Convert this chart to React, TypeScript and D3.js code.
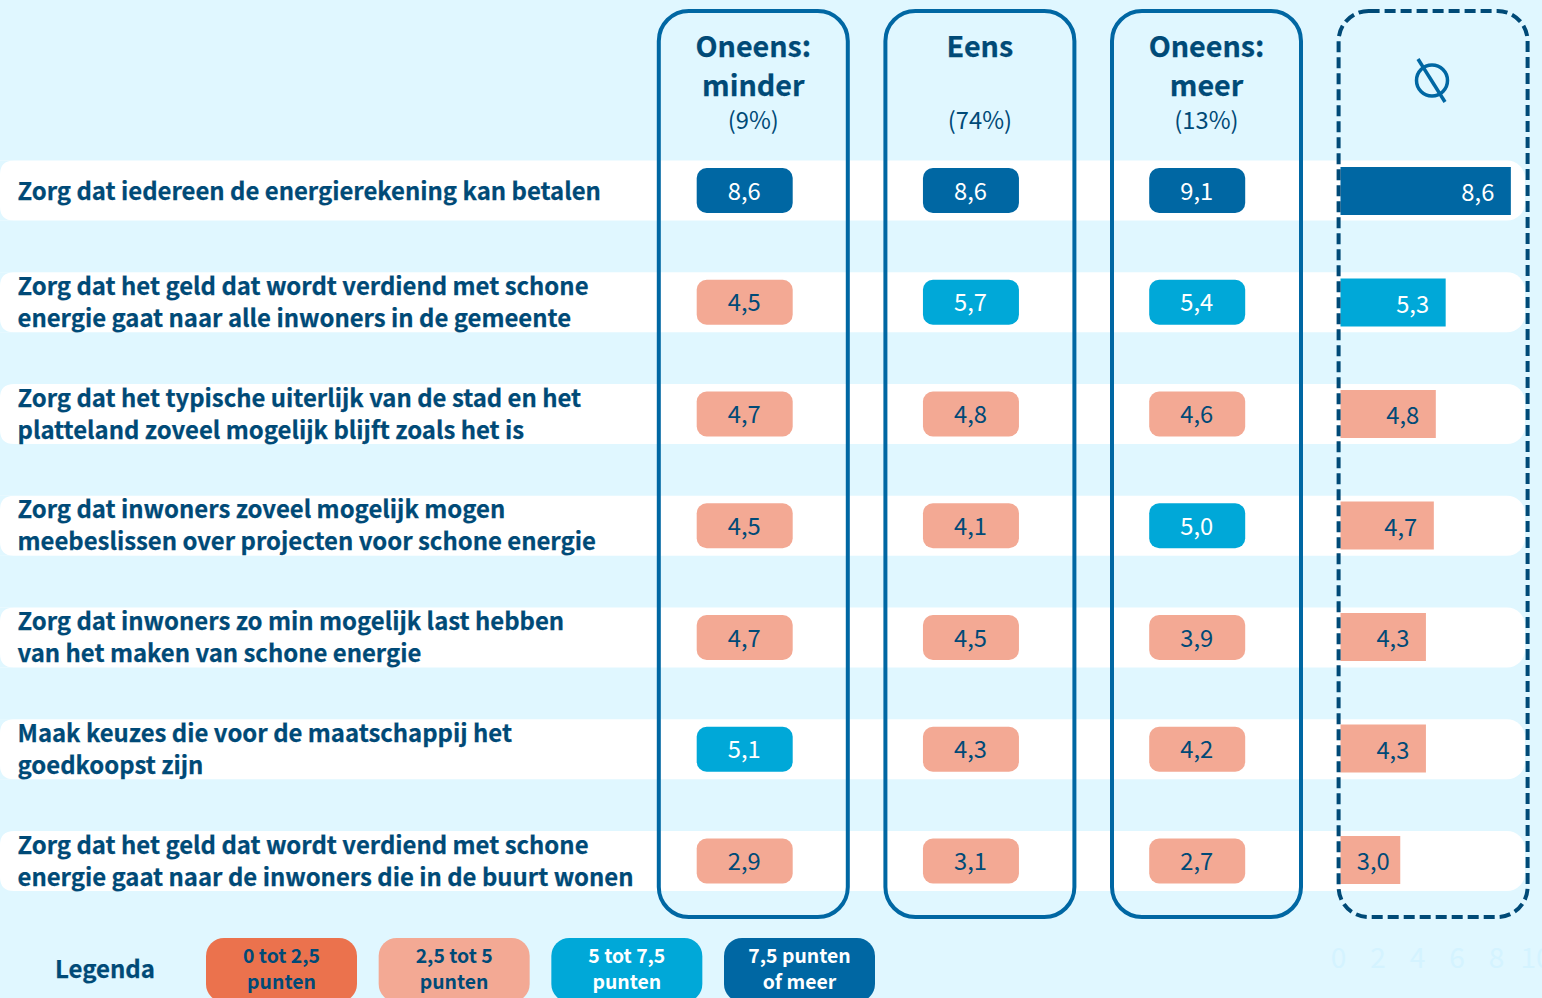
import React, { useEffect, useRef } from 'react';
import * as d3 from 'd3';

const statements: string[][] = [
    ['Zorg dat iedereen de energierekening kan betalen'],
    ['Zorg dat het geld dat wordt verdiend met schone', 'energie gaat naar alle inwoners in de gemeente'],
    ['Zorg dat het typische uiterlijk van de stad en het', 'platteland zoveel mogelijk blijft zoals het is'],
    ['Zorg dat inwoners zoveel mogelijk mogen', 'meebeslissen over projecten voor schone energie'],
    ['Zorg dat inwoners zo min mogelijk last hebben', 'van het maken van schone energie'],
    ['Maak keuzes die voor de maatschappij het', 'goedkoopst zijn'],
    ['Zorg dat het geld dat wordt verdiend met schone', 'energie gaat naar de inwoners die in de buurt wonen'],
];

const groupTitles = [['Oneens:', 'minder'], ['Eens'], ['Oneens:', 'meer']];
const groupShares = ['(9%)', '(74%)', '(13%)'];

const oneensMinder = [8.6, 4.5, 4.7, 4.5, 4.7, 5.1, 2.9];
const eens = [8.6, 5.7, 4.8, 4.1, 4.5, 4.3, 3.1];
const oneensMeer = [9.1, 5.4, 4.6, 5.0, 3.9, 4.2, 2.7];
const gemiddeld = [8.6, 5.3, 4.8, 4.7, 4.3, 4.3, 3.0];

const legendLabels = [['0 tot 2,5', 'punten'], ['2,5 tot 5', 'punten'], ['5 tot 7,5', 'punten'], ['7,5 punten', 'of meer']];
const barTicks = [0, 2, 4, 6, 8, 10];

const colors = ['#eb724d', '#f3a994', '#00a8d8', '#0067a3'];
const navy = '#004a77';
const blue = '#0067a3';
const bg = '#e0f7ff';
const FONT = '"Noto Sans CJK SC", "Noto Sans", sans-serif';

const fmt = (v: number) => v.toFixed(1).replace('.', ',');

const App = () => {
    const svgRef = useRef<SVGSVGElement>(null);

    useEffect(() => {
        const svg = d3.select(svgRef.current);
        svg.selectAll('*').remove();
        svg.style('font-family', FONT);

        const rowIdx = d3.range(statements.length);
        const y = d3.scaleBand<number>().domain(rowIdx).range([160.5, 160.5 + 111.75 * 7]);
        const rowH = 60;
        const mid = (i: number) => y(i)! + rowH / 2;
        // the bar column runs on a slightly tighter step than the rows
        const barY = d3.scaleBand<number>().domain(rowIdx).range([167, 167 + 111.5 * 7]);

        const fill = d3.scaleThreshold<number, string>().domain([2.5, 5, 7.5]).range(colors);
        const textFill = (v: number) => (v >= 5 ? 'white' : navy);

        const boxX = d3.scalePoint<number>().domain([0, 1, 2, 3]).range([658.8, 1338.6]);
        const pillX = d3.scalePoint<number>().domain([0, 1, 2]).range([696.7, 1149.2]);
        const boxW = 189;
        const x = d3.scaleLinear().domain([0, 10]).range([1341, 1538.5]);

        // white row bands
        svg.append('g').selectAll('rect').data(rowIdx).enter().append('rect')
            .attr('x', -20).attr('y', i => y(i)!)
            .attr('width', 1545).attr('height', rowH).attr('rx', 18)
            .attr('fill', 'white');

        // left corners of the bands sit on the page edge
        svg.append('g').selectAll('path').data(rowIdx).enter().append('path')
            .attr('transform', i => `translate(0,${y(i)})`)
            .attr('d', `M0,0 L14,0 Q0,0 0,14 Z M0,${rowH} L14,${rowH} Q0,${rowH} 0,${rowH - 14} Z`)
            .attr('fill', bg);

        // statements
        const labels = svg.append('g').selectAll('text').data(rowIdx).enter().append('text')
            .attr('fill', navy).attr('stroke', navy).attr('stroke-width', 0.25)
            .attr('font-size', 23.9).attr('font-weight', 700);
        labels.each(function (i) {
            const lines = statements[i];
            d3.select(this).selectAll('tspan').data(lines).enter().append('tspan')
                .attr('x', 17.5)
                .attr('y', (_, k) => lines.length === 1 ? y(i)! + 39.5 : y(i)! + 22.5 + k * 32)
                .text(d => d);
        });

        // three groups of pills
        [oneensMinder, eens, oneensMeer].forEach((values, g) => {
            const gx = pillX(g)!;
            const col = svg.append('g');
            col.selectAll('rect').data(values).enter().append('rect')
                .attr('x', gx).attr('y', (_, i) => mid(i) - 22.5)
                .attr('width', 96).attr('height', 45).attr('rx', 10)
                .attr('fill', d => fill(d));
            col.selectAll('text').data(values).enter().append('text')
                .attr('x', gx + 47.5).attr('y', (_, i) => mid(i) + 9)
                .attr('text-anchor', 'middle').attr('font-size', 23.75)
                .attr('fill', d => textFill(d))
                .text(d => fmt(d));
        });

        // average bars
        const bars = svg.append('g');
        bars.selectAll('rect').data(gemiddeld).enter().append('rect')
            .attr('x', x(0) - 0.5).attr('y', (_, i) => barY(i)!)
            .attr('width', d => x(d) - x(0) + 0.5).attr('height', 48)
            .attr('fill', d => fill(d));
        bars.selectAll('text').data(gemiddeld).enter().append('text')
            .attr('x', d => x(d) - (d <= 3 ? 27 : 33)).attr('y', (_, i) => barY(i)! + 34)
            .attr('text-anchor', 'middle').attr('font-size', 23.75)
            .attr('fill', d => textFill(d))
            .text(d => fmt(d));

        // column outlines
        svg.append('g').selectAll('rect').data([0, 1, 2, 3]).enter().append('rect')
            .attr('x', d => boxX(d)!).attr('y', 11)
            .attr('width', boxW).attr('height', 906).attr('rx', 30)
            .attr('fill', 'none')
            .attr('stroke', d => d === 3 ? navy : blue)
            .attr('stroke-width', 4)
            .attr('stroke-dasharray', d => d === 3 ? '11 5' : null);

        // headers
        groupTitles.forEach((lines, g) => {
            const cx = boxX(g)! + 94.5;
            lines.forEach((line, k) => {
                svg.append('text')
                    .attr('x', cx).attr('y', 57 + k * 38.5)
                    .attr('text-anchor', 'middle').attr('font-size', 28.7).attr('font-weight', 700)
                    .attr('fill', navy).attr('stroke', navy).attr('stroke-width', 0.25).text(line);
            });
            svg.append('text')
                .attr('x', cx).attr('y', 128.5)
                .attr('text-anchor', 'middle').attr('font-size', 23.75)
                .attr('fill', navy).text(groupShares[g]);
        });

        // gemiddelde icon
        const icon = svg.append('g').attr('fill', 'none').attr('stroke', blue).attr('stroke-width', 3.5);
        icon.append('circle').attr('cx', 1432).attr('cy', 80.5).attr('r', 15.5);
        icon.append('line').attr('x1', 1418).attr('y1', 59).attr('x2', 1445).attr('y2', 102);

        // faint axis under the bars
        const axis = svg.append('g')
            .attr('transform', 'translate(-3,948)')
            .call(d3.axisBottom(x).tickValues(barTicks).tickSize(0).tickPadding(0));
        axis.select('.domain').remove();
        axis.selectAll('.tick text')
            .attr('font-family', FONT).attr('font-size', 28).attr('fill', '#d4f3ff');

        // legend
        svg.append('text').attr('x', 55).attr('y', 978)
            .attr('font-size', 24).attr('font-weight', 700)
            .attr('fill', navy).attr('stroke', navy).attr('stroke-width', 0.25).text('Legenda');
        const legendX = d3.scalePoint<number>().domain([0, 1, 2, 3]).range([206, 724]);
        legendLabels.forEach((lines, i) => {
            const lx = legendX(i)!;
            svg.append('rect').attr('x', lx).attr('y', 938)
                .attr('width', 151).attr('height', 64).attr('rx', 18).attr('fill', colors[i]);
            lines.forEach((line, k) => {
                svg.append('text')
                    .attr('x', lx + 75.5).attr('y', 963 + k * 26)
                    .attr('text-anchor', 'middle').attr('font-size', 19.4).attr('font-weight', 700)
                    .attr('fill', i < 2 ? navy : 'white').text(line);
            });
        });
    }, []);

    return (
        <svg
            ref={svgRef}
            width={1542}
            height={998}
            style={{ position: 'absolute', left: 0, top: 0, background: bg, display: 'block' }}
        />
    );
};

export default App;
